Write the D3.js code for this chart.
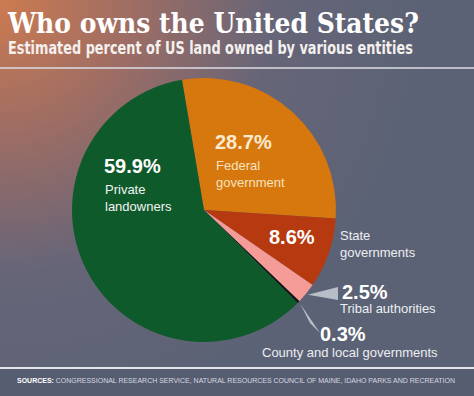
<!DOCTYPE html>
<html>
<head>
<meta charset="utf-8">
<script src="https://cdn.jsdelivr.net/npm/d3@7"></script>
<style>
  body { margin: 0; background: #5c6376; }
  svg { display: block; }
  text { font-family: "Liberation Sans", Arial, sans-serif; }
</style>
</head>
<body>
<svg width="474" height="396"></svg>
<script>
// data
var entities = ["Federal government", "State governments", "Tribal authorities", "County and local governments", "Private landowners"];
var shares = [28.7, 8.6, 2.5, 0.3, 59.9];
var colours = ["#d6780e", "#b7390f", "#f59c98", "#141414", "#0f5a2b"];
var labelLines = [["Federal", "government"], ["State", "governments"], ["Tribal authorities"], ["County and local governments"], ["Private", "landowners"]];

var svg = d3.select("svg"),
    width = +svg.attr("width"),
    height = +svg.attr("height");

var defs = svg.append("defs");
var bg = defs.append("radialGradient")
  .attr("id", "bg")
  .attr("gradientUnits", "userSpaceOnUse")
  .attr("cx", 0).attr("cy", 0).attr("r", 440);
bg.selectAll("stop")
  .data([
    { offset: "0%", color: "#cc7b50" },
    { offset: "30%", color: "#9e6d64" },
    { offset: "62%", color: "#666578" },
    { offset: "100%", color: "#5b6275" }
  ])
  .enter().append("stop")
  .attr("offset", d => d.offset)
  .attr("stop-color", d => d.color);

svg.append("rect").attr("width", width).attr("height", height).attr("fill", "url(#bg)");
svg.append("rect").attr("y", 369).attr("width", width).attr("height", height - 369).attr("fill", "#565d70");

// squeeze a text horizontally so it spans a given width
function fitWidth(sel, x, y, w) {
  var len = sel.node().getComputedTextLength();
  sel.attr("x", 0).attr("y", 0)
    .attr("transform", "translate(" + x + "," + y + ") scale(" + (w / len) + ",1)");
}

// title block
var title = svg.append("text")
  .style("font-family", "'DejaVu Serif', serif")
  .style("font-weight", "bold")
  .style("font-size", "27px")
  .attr("fill", "#ffffff")
  .text("Who owns the United States?");
fitWidth(title, 8, 32.5, 411);

var subtitle = svg.append("text")
  .style("font-family", "'DejaVu Sans Condensed', sans-serif")
  .style("font-weight", "bold")
  .style("font-size", "17px")
  .attr("fill", "#f4f0ee")
  .text("Estimated percent of US land owned by various entities");
fitWidth(subtitle, 8, 54, 405);

svg.append("line")
  .attr("x1", 0).attr("x2", width).attr("y1", 68).attr("y2", 68)
  .attr("stroke", "#dcdde4").attr("stroke-width", 1.5);

svg.append("line")
  .attr("x1", 0).attr("x2", width).attr("y1", 368).attr("y2", 368)
  .attr("stroke", "#e4e5ea").attr("stroke-width", 2);

var src = svg.append("text")
  .style("font-size", "8px")
  .attr("fill", "#d6d9e0");
src.append("tspan").style("font-weight", "bold").attr("fill", "#ffffff").text("SOURCES: ");
src.append("tspan").text("CONGRESSIONAL RESEARCH SERVICE, NATURAL RESOURCES COUNCIL OF MAINE, IDAHO PARKS AND RECREATION");
fitWidth(src, 17, 383, 439);

// pie
var cx = 204, cy = 210, radius = 132;
var start = -9.6 * Math.PI / 180;

var pie = d3.pie().sort(null).value(d => d)
  .startAngle(start).endAngle(start + 2 * Math.PI);
var arcs = pie(shares);
var arc = d3.arc().innerRadius(0).outerRadius(radius);

var g = svg.append("g").attr("transform", "translate(" + cx + "," + cy + ")");

g.selectAll("path.slice")
  .data(arcs)
  .enter().append("path")
  .attr("class", "slice")
  .attr("d", arc)
  .attr("fill", (d, i) => colours[i]);

// pointers for the small slices
function pointAt(angle, r) {
  return [r * Math.sin(angle), -r * Math.cos(angle)];
}
var pointers = [
  { i: 2, base: [[134, 77], [134, 90]] },
  { i: 3, base: [[106, 113], [116, 123]] }
];
g.selectAll("path.pointer")
  .data(pointers)
  .enter().append("path")
  .attr("class", "pointer")
  .attr("d", function (p) {
    var a = (arcs[p.i].startAngle + arcs[p.i].endAngle) / 2;
    var tip = pointAt(a, radius + 2);
    return "M" + tip + "L" + p.base[0] + "L" + p.base[1] + "Z";
  })
  .attr("fill", "#b9bdc8");

// labels
var labels = [
  { i: 0, x: 215, y: 149, fill: "#fbead0", sub: "#f7e2bd" },
  { i: 1, x: 269, y: 244, fill: "#ffffff", sub: "#eceef2", subx: 340, suby: 240 },
  { i: 2, x: 342, y: 299, fill: "#ffffff", sub: "#eceef2", subx: 340, suby: 313 },
  { i: 3, x: 320, y: 341, fill: "#ffffff", sub: "#eceef2", subx: 262, suby: 357 },
  { i: 4, x: 104, y: 173, fill: "#ffffff", sub: "#f2f2f2" }
];

labels.forEach(function (l) {
  svg.append("text")
    .attr("x", l.x).attr("y", l.y)
    .style("font-weight", "bold")
    .style("font-size", "20px")
    .attr("fill", l.fill)
    .text(d3.format(".1f")(shares[l.i]) + "%");

  var sx = l.subx != null ? l.subx : l.x + 1;
  var sy = l.suby != null ? l.suby : l.y + 21;
  var t = svg.append("text")
    .attr("x", sx).attr("y", sy)
    .style("font-size", "13px")
    .attr("fill", l.sub);
  labelLines[l.i].forEach(function (line, k) {
    t.append("tspan").attr("x", sx).attr("dy", k === 0 ? 0 : 17).text(line);
  });
});
</script>
</body>
</html>
